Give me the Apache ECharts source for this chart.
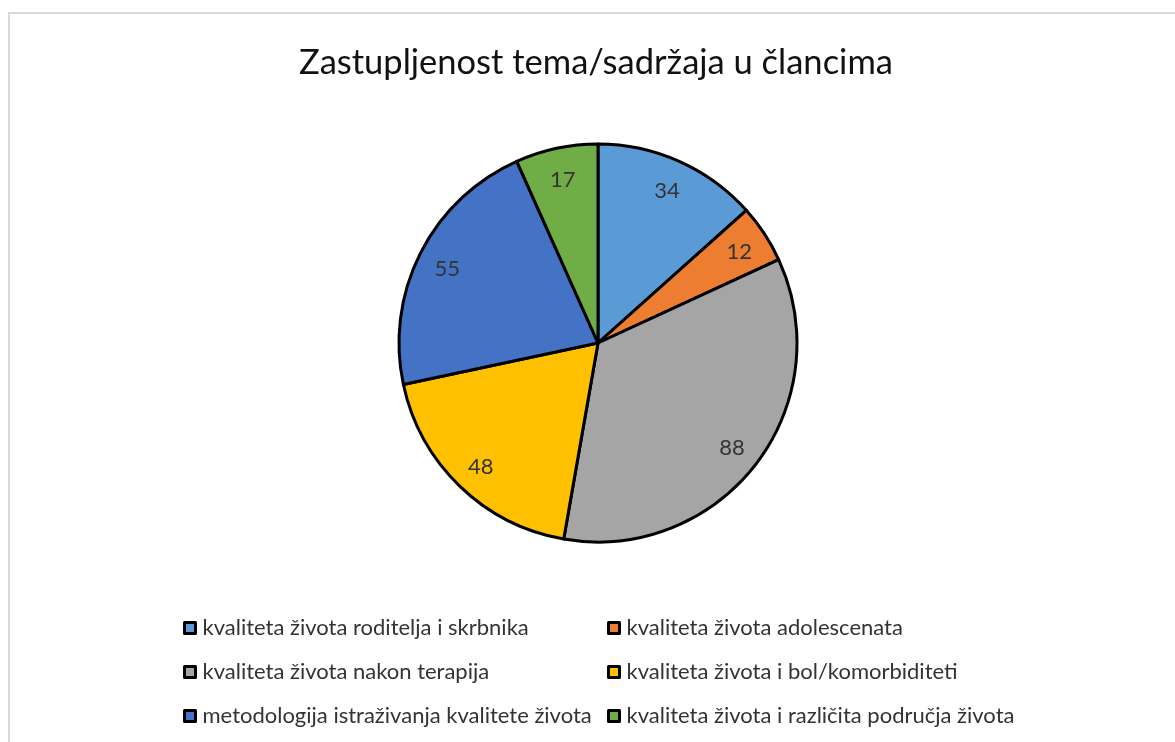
<!DOCTYPE html>
<html lang="hr">
<head>
	<meta charset="UTF-8">
	<title>Zastupljenost tema</title>
	<script src="https://cdn.jsdelivr.net/npm/echarts@6/dist/echarts.min.js"></script>
	<style>
		html, body { margin: 0; padding: 0; background: #fff; }
	</style>
</head>
<body>
	<div id="main" style="width: 1175px;height: 742px"></div>
	<script>
	// podaci
	var teme = [
		'kvaliteta života roditelja i skrbnika',
		'kvaliteta života adolescenata',
		'kvaliteta života nakon terapija',
		'kvaliteta života i bol/komorbiditeti',
		'metodologija istraživanja kvalitete života',
		'kvaliteta života i različita područja života'
	];
	var broj = [34, 12, 88, 48, 55, 17];
	var boje = ['#5B9BD5', '#ED7D31', '#A5A5A5', '#FFC000', '#4472C4', '#70AD47'];

	var font = 'Lato';
	var mydata = teme.map(function (t, i) {
		return { name: t, value: broj[i], itemStyle: { color: boje[i] } };
	});
	var labelData = teme.map(function (t, i) {
		return { name: t, value: broj[i] };
	});

	var legendBase = {
		orient: 'vertical',
		icon: 'rect',
		itemWidth: 11,
		itemHeight: 11,
		itemGap: 22,
		itemStyle: { borderColor: '#000', borderWidth: 3 },
		textStyle: { fontFamily: font, fontSize: 22, lineHeight: 22, color: '#333', padding: [0, 0, 0, 2] },
		selectedMode: false
	};

	var option = {
		backgroundColor: '#fff',
		color: boje,
		animation: false,
		title: {
			text: 'Zastupljenost tema/sadržaja u člancima',
			left: 294,
			top: 40,
			textStyle: { fontFamily: font, fontSize: 34.5, fontWeight: 'normal', color: '#111' }
		},
		graphic: [{
			type: 'rect',
			shape: { x: 9, y: 13, width: 1180, height: 740 },
			style: { fill: 'none', stroke: '#d9d9d9', lineWidth: 2 },
			silent: true
		}],
		legend: [
			Object.assign({}, legendBase, { left: 178, top: 612, data: [teme[0], teme[2], teme[4]] }),
			Object.assign({}, legendBase, { left: 602, top: 612, data: [teme[1], teme[3], teme[5]] })
		],
		series: [{
			name: 'teme',
			type: 'pie',
			center: [598, 343],
			radius: [0, 199],
			startAngle: 90,
			clockwise: true,
			label: { show: false },
			labelLine: { show: false },
			itemStyle: { borderColor: '#000', borderWidth: 3 },
			emphasis: { disabled: true },
			data: mydata
		}, {
			// samo za oznake vrijednosti blizu ruba
			name: 'oznake',
			type: 'pie',
			center: [598, 345],
			radius: [133, 199],
			startAngle: 90,
			silent: true,
			itemStyle: { color: 'rgba(0,0,0,0)', borderWidth: 0 },
			label: {
				show: true,
				position: 'inside',
				formatter: '{c}',
				fontFamily: font,
				fontSize: 22,
				color: '#333'
			},
			labelLine: { show: false },
			data: labelData
		}]
	};

	var myChart = echarts.init(document.getElementById('main'));
	myChart.setOption(option);
	</script>
</body>
</html>
